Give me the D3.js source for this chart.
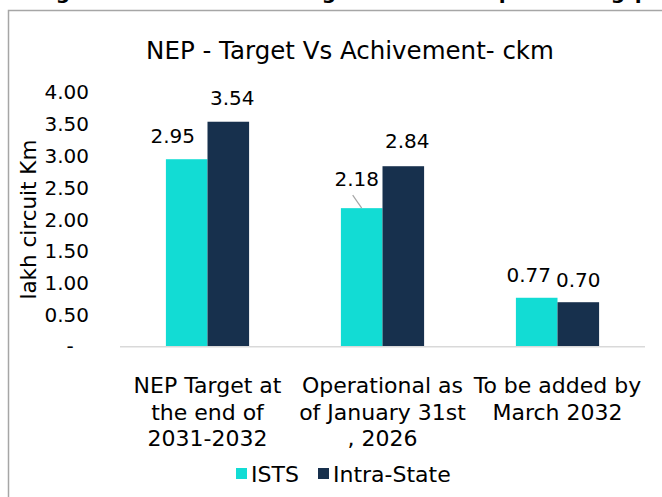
<!DOCTYPE html>
<html><head><meta charset="utf-8">
<script src="https://cdn.jsdelivr.net/npm/d3@7"></script>
<style>
html,body{margin:0;padding:0;background:#fff;}
svg{display:block;}
text{font-family:"DejaVu Sans",sans-serif;fill:#000;}
</style></head>
<body>
<script>
const categories = [["NEP Target at","the end of","2031-2032"],["Operational as","of January 31st",", 2026"],["To be added by","March 2032"]];
const seriesNames = ["ISTS","Intra-State"];
const istsValues = [2.95, 2.18, 0.77];
const intraValues = [3.54, 2.84, 0.70];
const yTicks = [0, 0.5, 1, 1.5, 2, 2.5, 3, 3.5, 4];
const colors = ["#12DCD4","#17304D"];
const title = "NEP - Target Vs Achivement- ckm";
const yTitle = "lakh circuit Km";

const W = 662, H = 497;
const svg = d3.select("body").append("svg").attr("width", W).attr("height", H);

// cut-off header fragments (descenders of text above the chart)
const frag = [["g",63],["g",329],["p",506],["g",618],["p",642]];
svg.selectAll("text.frag").data(frag).enter().append("text")
  .attr("x", d=>d[1]).attr("y", -1.5).attr("text-anchor","middle")
  .style("font-weight","bold").style("font-size","20px").text(d=>d[0]);

// chart border
svg.append("path").attr("d","M8.5,"+(H+5)+"V10.5H"+(W+5)).attr("fill","none").attr("stroke","#a6a6a6").attr("stroke-width",1.5);

const plotL = 120, plotR = 645, plotT = 92.5, plotB = 346.7;
const y = d3.scaleLinear().domain([0,4]).range([plotB, plotT]);
const x0 = d3.scaleBand().domain(d3.range(categories.length)).range([plotL, plotR]).paddingInner(0.5246).paddingOuter(0.2623);
const x1 = d3.scaleBand().domain(seriesNames).range([0, x0.bandwidth()]);

// title
svg.append("text").attr("x", 350).attr("y", 59).attr("text-anchor","middle").style("font-size","24.5px").text(title);

// y axis (no line)
const yAxis = d3.axisLeft(y).tickValues(yTicks).tickSize(0).tickPadding(0)
  .tickFormat(d => d === 0 ? "" : d3.format(".2f")(d));
const gy = svg.append("g").attr("transform","translate(89,0)").call(yAxis);
gy.select(".domain").remove();
gy.selectAll("text").style("font-size","20px").style("font-family","'DejaVu Sans',sans-serif").attr("fill","#000");
svg.append("text").attr("x", 70).attr("y", y(0)).attr("dy","0.32em").attr("text-anchor","middle").style("font-size","20px").text("-");

svg.append("text").attr("transform","translate(36,"+((plotT+plotB)/2)+") rotate(-90)").attr("text-anchor","middle").style("font-size","21.5px").text(yTitle);

// bars
const data = categories.map((c,i)=>({i, vals:[istsValues[i], intraValues[i]]}));
const groups = svg.selectAll("g.grp").data(data).enter().append("g").attr("transform", d=>"translate("+x0(d.i)+",0)");
groups.selectAll("rect").data(d=>d.vals.map((v,k)=>({k,v}))).enter().append("rect")
  .attr("x", d=>x1(seriesNames[d.k])).attr("width", x1.bandwidth())
  .attr("y", d=>y(d.v)).attr("height", d=>y(0)-y(d.v)).attr("fill", d=>colors[d.k]);

// baseline axis line
svg.append("line").attr("x1",plotL).attr("x2",plotR).attr("y1",plotB).attr("y2",plotB).attr("stroke","#d9d9d9").attr("stroke-width",1.5);

// data labels (offsets mimic manually placed labels)
const labelOffsets = [[[-14,-16],[4,-17]],[[-5,-22],[4,-18]],[[-8,-16],[0,-15]]];
data.forEach(d=>{
  d.vals.forEach((v,k)=>{
    const cx = x0(d.i) + x1(seriesNames[k]) + x1.bandwidth()/2 + labelOffsets[d.i][k][0];
    svg.append("text").attr("x", cx).attr("y", y(v) + labelOffsets[d.i][k][1]).attr("text-anchor","middle").style("font-size","20px").text(d3.format(".2f")(v));
  });
});
// leader line for 2.18
{
  const bx = x0(1) + x1(seriesNames[0]) + x1.bandwidth()/2;
  svg.append("line").attr("x1", bx-9).attr("y1", y(istsValues[1])-13).attr("x2", bx).attr("y2", y(istsValues[1])).attr("stroke","#a6a6a6").attr("stroke-width",1.2);
}

// category labels
categories.forEach((lines,i)=>{
  const t = svg.append("text").attr("x", x0(i)+x0.bandwidth()/2).attr("y", 393).attr("text-anchor","middle").style("font-size","22px");
  lines.forEach((l,j)=>t.append("tspan").attr("x", x0(i)+x0.bandwidth()/2).attr("dy", j===0?0:26.5).text(l));
});

// legend
const leg = [[236, 0],[318, 1]];
leg.forEach(([lx,k])=>{
  svg.append("rect").attr("x", lx).attr("y", 468).attr("width", 11).attr("height", 11).attr("fill", colors[k]);
  svg.append("text").attr("x", lx+15).attr("y", 482).style("font-size","22px").text(seriesNames[k]);
});
</script>
</body></html>
